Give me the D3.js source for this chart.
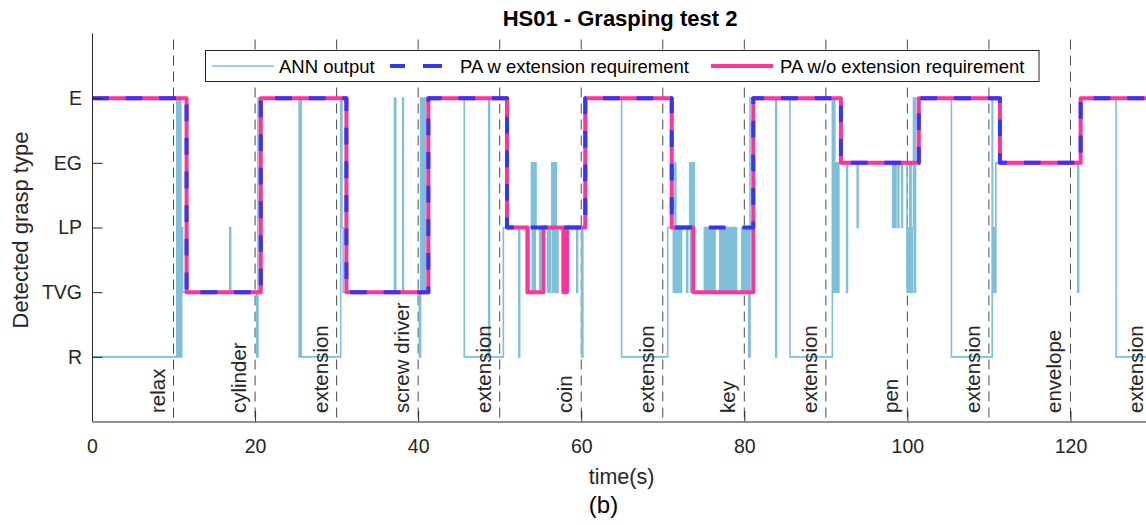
<!DOCTYPE html>
<html>
<head>
<meta charset="utf-8">
<script src="https://cdn.jsdelivr.net/npm/d3@7"></script>
<style>
  body { margin: 0; background: #fff; }
  svg { display: block; font-family: "Liberation Sans", Arial, sans-serif; }
</style>
</head>
<body>
<script>
// grasp classes, bottom to top
const graspTypes = ["R", "TVG", "LP", "EG", "E"];
const timeTicks = [0, 20, 40, 60, 80, 100, 120];

// task markers (xline every 10 s)
const taskTimes = [10, 20, 30, 40, 50, 60, 70, 80, 90, 100, 110, 120, 130];
const taskLabels = ["relax", "cylinder", "extension", "screw driver", "extension", "coin",
  "extension", "key", "extension", "pen", "extension", "envelope", "extension"];

// ANN output (change points, step after)
const annTime = [0, 10.4, 10.6, 10.75, 10.9, 11.0, 11.1, 16.9, 17.0, 20.2, 20.35, 25.4, 25.5, 25.65,
  30.5, 30.65, 30.8, 37.1, 37.25, 38.1, 38.2, 40.15, 40.3, 40.4, 40.5, 40.6, 40.7, 40.8, 40.9,
  45.65, 48.65, 48.75, 50.45, 52.35, 52.45, 53.5, 53.6, 53.9, 54.0, 54.1, 54.2, 54.35, 54.45,
  54.9, 55.0, 55.3, 55.4, 55.9, 56.0, 56.15, 56.25, 56.4, 56.5, 56.6, 56.75, 56.85, 56.95,
  57.05, 57.15, 59.45, 59.55, 60.05, 60.2, 60.4, 64.95, 70.6, 71.3, 71.4, 71.5, 71.6, 71.75,
  71.95, 72.05, 72.2, 72.3, 72.95, 73.05, 73.3, 73.4, 73.5, 73.6, 73.75, 73.85, 74.0,
  75.1, 75.2, 75.3, 75.4, 75.5, 75.6, 75.7, 75.8, 75.9, 76.0, 76.1, 76.2, 76.3, 76.4,
  77.0, 77.1, 77.2, 77.3, 77.4, 77.5, 77.6, 77.7, 77.8, 77.9, 78.0, 78.15, 78.3, 78.4,
  78.5, 78.6, 78.7, 78.8, 78.9, 79.05, 79.7, 79.8, 79.9, 80.0, 80.1, 80.3, 80.4, 80.55,
  80.7, 83.85, 83.95, 85.6, 90.8, 90.9, 91.0, 91.1, 91.2, 91.3, 91.4, 91.5, 91.6, 92.55,
  92.65, 93.85, 93.95, 98.2, 98.3, 98.5, 98.6, 98.85, 98.95, 99.3, 99.4, 99.95, 100.05,
  100.2, 100.3, 100.45, 100.6, 100.75, 100.85, 101.0, 105.4, 110.4, 110.45, 110.55, 110.65,
  110.75, 110.85, 120.9, 121.0, 121.15, 125.6, 130];
const annLevel = ["R", "E", "R", "E", "R", "LP", "TVG", "LP", "TVG", "R", "E", "R", "E", "R",
  "E", "LP", "TVG", "E", "TVG", "E", "TVG", "R", "E", "TVG", "E", "TVG", "E", "TVG", "E",
  "R", "E", "R", "LP", "R", "LP", "TVG", "LP", "EG", "TVG", "EG", "TVG", "EG", "LP",
  "TVG", "LP", "TVG", "LP", "TVG", "LP", "TVG", "LP", "EG", "TVG", "EG", "TVG", "EG", "LP",
  "TVG", "LP", "TVG", "LP", "R", "LP", "E", "R", "LP", "TVG", "LP", "EG", "TVG", "LP",
  "TVG", "LP", "TVG", "LP", "TVG", "LP", "EG", "TVG", "EG", "LP", "EG", "TVG", "TVG",
  "LP", "TVG", "LP", "TVG", "LP", "TVG", "LP", "TVG", "LP", "TVG", "LP", "TVG", "LP", "TVG",
  "LP", "TVG", "LP", "TVG", "LP", "TVG", "LP", "TVG", "LP", "TVG", "LP", "TVG", "LP", "TVG",
  "LP", "TVG", "LP", "TVG", "LP", "TVG", "LP", "TVG", "LP", "TVG", "LP", "TVG", "LP", "R",
  "E", "R", "E", "R", "E", "TVG", "E", "TVG", "EG", "TVG", "EG", "TVG", "EG", "TVG",
  "EG", "LP", "EG", "LP", "EG", "LP", "EG", "LP", "EG", "LP", "EG", "TVG", "LP",
  "TVG", "EG", "TVG", "LP", "E", "TVG", "E", "R", "E", "LP", "TVG", "LP",
  "TVG", "EG", "TVG", "EG", "E", "R", "R"];

// post-processing with extension requirement
const paExtTime = [0, 11.6, 20.7, 31.2, 41.25, 50.9, 60.5, 71.1, 81.1, 91.85, 101.4, 111.35, 121.25, 130];
const paExtLevel = ["E", "TVG", "E", "TVG", "E", "LP", "E", "LP", "E", "EG", "E", "EG", "E", "E"];

// post-processing without extension requirement
const paNoExtTime = [0, 11.6, 20.7, 31.2, 41.25, 50.9, 53.4, 55.35, 57.8, 57.95, 58.1, 58.25, 60.5,
  71.1, 73.75, 81.1, 91.85, 101.4, 111.35, 121.25, 130];
const paNoExtLevel = ["E", "TVG", "E", "TVG", "E", "LP", "TVG", "LP", "TVG", "LP", "TVG", "LP", "E",
  "LP", "TVG", "E", "EG", "E", "EG", "E", "E"];

const W = 1146, H = 525;
const plotL = 92, plotR = 1152, plotT = 33.5, plotB = 421.5;
const axisCol = "#262626";

const svg = d3.select("body").append("svg").attr("width", W).attr("height", H);

const x = d3.scaleLinear().domain([0, 130]).range([plotL, plotR]);
const y = d3.scaleLinear().domain([0, 6]).range([plotB, plotT]);
const lvl = g => graspTypes.indexOf(g) + 1;

svg.append("clipPath").attr("id", "plotclip")
  .append("rect").attr("x", plotL).attr("y", plotT - 5).attr("width", plotR - plotL).attr("height", plotB - plotT + 5);

const plot = svg.append("g").attr("clip-path", "url(#plotclip)");

// task xlines
plot.selectAll("line.task").data(taskTimes).enter().append("line")
  .attr("class", "task")
  .attr("x1", d => x(d)).attr("x2", d => x(d))
  .attr("y1", y(6)).attr("y2", y(0))
  .attr("stroke", "#4a4a4a").attr("stroke-width", 1)
  .attr("stroke-dasharray", "10,6").attr("stroke-dashoffset", 10);

const stepLine = d3.line().x(d => x(d[0])).y(d => y(d[1])).curve(d3.curveStepAfter);
const zipSeries = (ts, ls) => ts.map((t, i) => [t, lvl(ls[i])]);

plot.append("path").datum(zipSeries(annTime, annLevel))
  .attr("d", stepLine).attr("fill", "none")
  .attr("stroke", "#7ebfda").attr("stroke-width", 1.6);

plot.append("path").datum(zipSeries(paNoExtTime, paNoExtLevel))
  .attr("d", stepLine).attr("fill", "none")
  .attr("stroke", "#ff3399").attr("stroke-width", 4).attr("stroke-linejoin", "round");

plot.append("path").datum(zipSeries(paExtTime, paExtLevel))
  .attr("d", stepLine).attr("fill", "none")
  .attr("stroke", "#3535f8").attr("stroke-width", 4).attr("stroke-linejoin", "round")
  .attr("stroke-dasharray", "16.8,16.8");

// task labels
svg.selectAll("text.task").data(taskTimes).enter().append("text")
  .attr("class", "task")
  .attr("transform", d => `translate(${x(d) - 9},413) rotate(-90)`)
  .attr("text-anchor", "start")
  .attr("font-size", "20.5px").attr("fill", axisCol)
  .text((d, i) => taskLabels[i]);

// axes
const xAxis = svg.append("g").attr("transform", `translate(0,${plotB})`)
  .call(d3.axisBottom(x).tickValues(timeTicks).tickSizeInner(-10.5).tickSizeOuter(0).tickPadding(18));
const yAxis = svg.append("g").attr("transform", `translate(${plotL},0)`)
  .call(d3.axisLeft(y).tickValues([1, 2, 3, 4, 5]).tickFormat(d => graspTypes[d - 1])
    .tickSizeInner(-10.5).tickSizeOuter(0).tickPadding(10));
yAxis.select(".domain").attr("d", `M0.5,${plotT}V${plotB}`);

[xAxis, yAxis].forEach(a => {
  a.attr("font-family", null).attr("font-size", null);
  a.selectAll("path, line").attr("stroke", axisCol);
  a.selectAll("text").attr("fill", axisCol).style("font-size", "19.5px");
});

// title and axis labels
svg.append("text").attr("x", 620).attr("y", 26).attr("text-anchor", "middle")
  .attr("font-weight", "bold").attr("font-size", "22px").attr("fill", "#000")
  .text("HS01 - Grasping test 2");

svg.append("text").attr("transform", "translate(28,230) rotate(-90)")
  .attr("text-anchor", "middle").attr("font-size", "22px").attr("fill", axisCol)
  .text("Detected grasp type");

svg.append("text").attr("x", 621.5).attr("y", 483.5).attr("text-anchor", "middle")
  .attr("font-size", "21.5px").attr("fill", axisCol).text("time(s)");

svg.append("text").attr("x", 603.5).attr("y", 513).attr("text-anchor", "middle")
  .attr("font-size", "24px").attr("fill", "#000").text("(b)");

// legend
const legend = svg.append("g");
legend.append("rect").attr("x", 205.5).attr("y", 50.5).attr("width", 833.5).attr("height", 31)
  .attr("fill", "#fff").attr("stroke", axisCol).attr("stroke-width", 1);

const legendItems = [
  { label: "ANN output", x1: 212, x2: 274, tx: 279, color: "#7ebfda", width: 1.6, dash: null },
  { label: "PA w extension requirement", x1: 390, x2: 442, tx: 460, color: "#3535f8", width: 4, dash: "15,18,19" },
  { label: "PA w/o extension requirement", x1: 711, x2: 773, tx: 780, color: "#ff3399", width: 4, dash: null }
];
legendItems.forEach(it => {
  legend.append("line").attr("x1", it.x1).attr("x2", it.x2).attr("y1", 66).attr("y2", 66)
    .attr("stroke", it.color).attr("stroke-width", it.width)
    .attr("stroke-dasharray", it.dash);
  legend.append("text").attr("x", it.tx).attr("y", 72.8)
    .attr("font-size", "18.5px").attr("fill", "#000").text(it.label);
});
</script>
</body>
</html>
